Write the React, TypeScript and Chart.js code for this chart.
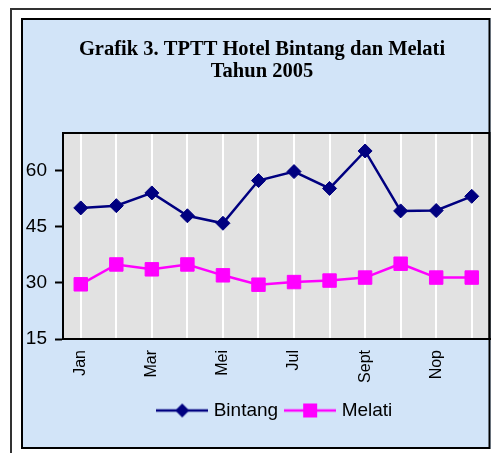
import React, { useEffect, useRef } from "react";
import { Chart, registerables } from "chart.js";

Chart.register(...registerables);

const months = ["Jan", "Peb", "Mar", "Apr", "Mei", "Jun", "Jul", "Agust", "Sept", "Okt", "Nop", "Des"];
const bintang = [50.0, 50.6, 54.0, 47.9, 45.9, 57.3, 59.7, 55.2, 65.2, 49.2, 49.3, 53.1];
const melati = [29.6, 34.9, 33.6, 34.9, 32.0, 29.5, 30.2, 30.6, 31.4, 35.1, 31.4, 31.4];
const yTicks = [15, 30, 45, 60];
const titleLines = ["Grafik 3. TPTT Hotel Bintang dan Melati", "Tahun 2005"];

const NAVY = "#000080";
const MAGENTA = "#ff00ff";
const SANS = '"Liberation Sans", Arial, sans-serif';

function legendIcon(color: string, kind: "diamond" | "square") {
  const c = document.createElement("canvas");
  c.width = 52;
  c.height = 16;
  const ctx = c.getContext("2d")!;
  ctx.strokeStyle = color;
  ctx.lineWidth = 2.5;
  ctx.beginPath();
  ctx.moveTo(0, 8);
  ctx.lineTo(52, 8);
  ctx.stroke();
  ctx.fillStyle = color;
  if (kind === "diamond") {
    ctx.beginPath();
    ctx.moveTo(26, 1);
    ctx.lineTo(33, 8);
    ctx.lineTo(26, 15);
    ctx.lineTo(19, 8);
    ctx.closePath();
    ctx.fill();
  } else {
    ctx.fillRect(19, 1, 14, 14);
  }
  return c;
}

const CANVAS_W = 469;
const CANVAS_H = 431;
const PAD_BOTTOM = 19;
const AREA_BOTTOM = 320;
const AREA_RIGHT = 468;
const LEGEND_H = 40;

export default function App() {
  const ref = useRef<HTMLCanvasElement>(null);

  useEffect(() => {
    const canvas = ref.current!;
    const icons = [legendIcon(NAVY, "diamond"), legendIcon(MAGENTA, "square")];

    const bgPlugin = {
      id: "bg",
      beforeDraw(chart: any) {
        const { ctx, width, height, chartArea: a } = chart;
        ctx.save();
        ctx.fillStyle = "#d2e4f8";
        ctx.fillRect(0, 0, width, height);
        ctx.fillStyle = "#e2e2e2";
        ctx.fillRect(a.left, a.top, a.right - a.left, a.bottom - a.top);
        ctx.fillStyle = "#000";
        ctx.font = 'bold 20.5px "Liberation Serif", "Times New Roman", serif';
        ctx.textAlign = "center";
        ctx.textBaseline = "alphabetic";
        titleLines.forEach((t, i) => ctx.fillText(t, 241, 37 + i * 22));
        ctx.restore();
      },
      beforeDatasetsDraw(chart: any) {
        const { ctx, chartArea: a } = chart;
        ctx.save();
        ctx.strokeStyle = "#000";
        ctx.lineWidth = 2;
        ctx.strokeRect(a.left, a.top, a.right - a.left, a.bottom - a.top);
        ctx.restore();
      },
      afterDraw(chart: any) {
        const { ctx, height, chartArea: a } = chart;
        ctx.save();
        ctx.strokeStyle = "#000";
        ctx.lineWidth = 2;
        ctx.strokeRect(1, 1, a.right - 1, height - 2);
        ctx.restore();
      },
    };

    const make = () =>
      new Chart(canvas, {
        type: "line",
        data: {
          labels: months,
          datasets: [
            {
              label: "Bintang",
              data: bintang,
              borderColor: NAVY,
              backgroundColor: NAVY,
              borderWidth: 2.5,
              pointStyle: "rectRot",
              pointRadius: 7,
              pointBorderWidth: 1,
              pointBackgroundColor: NAVY,
              pointBorderColor: NAVY,
              tension: 0,
            },
            {
              label: "Melati",
              data: melati,
              borderColor: MAGENTA,
              backgroundColor: MAGENTA,
              borderWidth: 2.5,
              pointStyle: "rect",
              pointRadius: 9.5,
              pointBorderWidth: 1,
              pointBackgroundColor: MAGENTA,
              pointBorderColor: MAGENTA,
              tension: 0,
            },
          ],
        },
        options: {
          animation: false,
          responsive: false,
          maintainAspectRatio: false,
          events: [],
          layout: { padding: { top: 115, left: 0, right: 1, bottom: PAD_BOTTOM } },
          plugins: {
            title: { display: false },
            tooltip: { enabled: false },
            legend: {
              display: true,
              position: "bottom",
              fullSize: false,
              labels: {
                usePointStyle: true,
                pointStyleWidth: 44,
                padding: 10,
                color: "#000",
                font: { family: SANS, size: 19 },
                generateLabels: (chart: any) =>
                  chart.data.datasets.map((ds: any, i: number) => ({
                    text: ds.label,
                    pointStyle: icons[i],
                    fillStyle: ds.borderColor,
                    strokeStyle: ds.borderColor,
                    lineWidth: 0,
                    hidden: false,
                    datasetIndex: i,
                    fontColor: "#000",
                  })),
              },
            },
          },
          scales: {
            x: {
              type: "category",
              offset: true,
              grid: {
                display: true,
                drawOnChartArea: true,
                drawTicks: false,
                color: "#ffffff",
                lineWidth: 2,
                offset: false,
              },
              border: { display: true, color: "#000", width: 2 },
              ticks: {
                autoSkip: false,
                maxRotation: 90,
                minRotation: 90,
                padding: 11,
                color: "#000",
                font: { family: SANS, size: 16 },
                callback: (_v: any, i: number) => (i % 2 === 0 ? months[i] : ""),
              },
              afterFit: (scale: any) => {
                scale.height = CANVAS_H - AREA_BOTTOM - LEGEND_H - PAD_BOTTOM;
                scale.paddingLeft = 0;
                scale.paddingRight = 0;
              },
            },
            y: {
              type: "linear",
              min: 15,
              max: 70,
              bounds: "data",
              afterBuildTicks: (scale: any) => {
                scale.ticks = yTicks.map((v) => ({ value: v }));
              },
              afterFit: (scale: any) => {
                scale.width = 42;
                scale.paddingTop = 0;
                scale.paddingBottom = 0;
              },
              grid: {
                display: true,
                drawOnChartArea: false,
                drawTicks: true,
                tickLength: 8,
                tickColor: "#000",
                tickWidth: 2,
              },
              border: { display: true, color: "#000", width: 2 },
              ticks: {
                padding: 8,
                color: "#000",
                font: { family: SANS, size: 19 },
              },
            },
          },
        },
        plugins: [bgPlugin],
      });

    canvas.width = CANVAS_W;
    canvas.height = CANVAS_H;
    let chart = make();
    const diff = Math.round(AREA_RIGHT - chart.chartArea.right);
    if (diff !== 0) {
      chart.destroy();
      const w = CANVAS_W + diff;
      canvas.width = w;
      canvas.height = CANVAS_H;
      canvas.style.width = w + "px";
      canvas.style.height = CANVAS_H + "px";
      chart = make();
    }

    return () => chart.destroy();
  }, []);

  return (
    <div
      style={{
        position: "fixed",
        left: 0,
        top: 0,
        width: 491,
        height: 453,
        overflow: "hidden",
        background: "#fff",
      }}
    >
      <div
        style={{
          position: "absolute",
          left: 10,
          top: 8,
          width: 600,
          height: 600,
          borderLeft: "2px solid #333",
          borderTop: "2px solid #333",
        }}
      />
      <canvas
        ref={ref}
        width={CANVAS_W}
        height={CANVAS_H}
        style={{ position: "absolute", left: 21, top: 18, width: CANVAS_W, height: CANVAS_H }}
      />
    </div>
  );
}
